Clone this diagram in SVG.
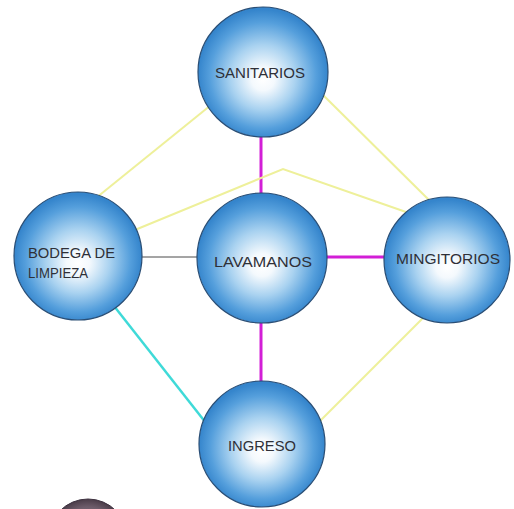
<svg xmlns="http://www.w3.org/2000/svg" width="514" height="509" viewBox="0 0 514 509">
<defs>
<radialGradient id="ball" cx="0.5" cy="0.52" r="0.5" fx="0.5" fy="0.56">
<stop offset="0" stop-color="#ffffff"/>
<stop offset="0.18" stop-color="#f4f9fd"/>
<stop offset="0.5" stop-color="#a9d2f0"/>
<stop offset="0.82" stop-color="#559fdc"/>
<stop offset="1" stop-color="#3585cc"/>
</radialGradient>
<radialGradient id="dark" cx="0.5" cy="0.5" r="0.5">
<stop offset="0" stop-color="#9a8a96"/>
<stop offset="0.8" stop-color="#6e5d6b"/>
<stop offset="1" stop-color="#4a3c48"/>
</radialGradient>
<style>
.node circle{fill:url(#ball);stroke:#2a4e75;stroke-width:1.2}
.node text{font-family:"Liberation Sans","DejaVu Sans",sans-serif;font-size:15px;fill:#2e3038}
.mag{stroke:#d21ed6;stroke-width:3;fill:none}
.yel{stroke:#eef09a;stroke-width:2;fill:none}
.cyan{stroke:#3fdad8;stroke-width:2.5;fill:none}
.gray{stroke:#4a4a4a;stroke-width:1;fill:none}
</style>
</defs>
<rect width="514" height="509" fill="#ffffff"/>
<g id="connectors">
<line class="mag" x1="261" y1="130" x2="261" y2="200"/>
<line class="mag" x1="320" y1="257" x2="390" y2="257"/>
<line class="mag" x1="261" y1="316" x2="261" y2="388"/>
<line class="gray" x1="135" y1="257" x2="205" y2="257"/>
<line class="yel" x1="96" y1="198" x2="211" y2="105"/>
<line class="yel" x1="320" y1="92" x2="431" y2="202"/>
<polyline class="yel" points="130,232 283,169 406,212"/>
<line class="yel" x1="427" y1="314" x2="319" y2="422"/>
<line class="cyan" x1="114" y1="306" x2="206" y2="423"/>
</g>
<g id="sanitarios" class="node">
<circle cx="263" cy="72" r="65"/>
<text x="215" y="78" textLength="90" lengthAdjust="spacingAndGlyphs">SANITARIOS</text>
</g>
<g id="lavamanos" class="node">
<circle cx="262" cy="258" r="65"/>
<text x="214" y="267" textLength="98" lengthAdjust="spacingAndGlyphs">LAVAMANOS</text>
</g>
<g id="bodega" class="node">
<circle cx="78" cy="256" r="64"/>
<text x="28" y="258" textLength="87" lengthAdjust="spacingAndGlyphs">BODEGA DE</text>
<text x="28" y="278" textLength="60" lengthAdjust="spacingAndGlyphs">LIMPIEZA</text>
</g>
<g id="mingitorios" class="node">
<circle cx="447" cy="260" r="63"/>
<text x="396" y="264" textLength="104" lengthAdjust="spacingAndGlyphs">MINGITORIOS</text>
</g>
<g id="ingreso" class="node">
<circle cx="262" cy="444" r="63"/>
<text x="228" y="451" textLength="68" lengthAdjust="spacingAndGlyphs">INGRESO</text>
</g>
<ellipse cx="88" cy="540" rx="40" ry="41" fill="url(#dark)" stroke="#3e3240" stroke-width="1"/>
</svg>
